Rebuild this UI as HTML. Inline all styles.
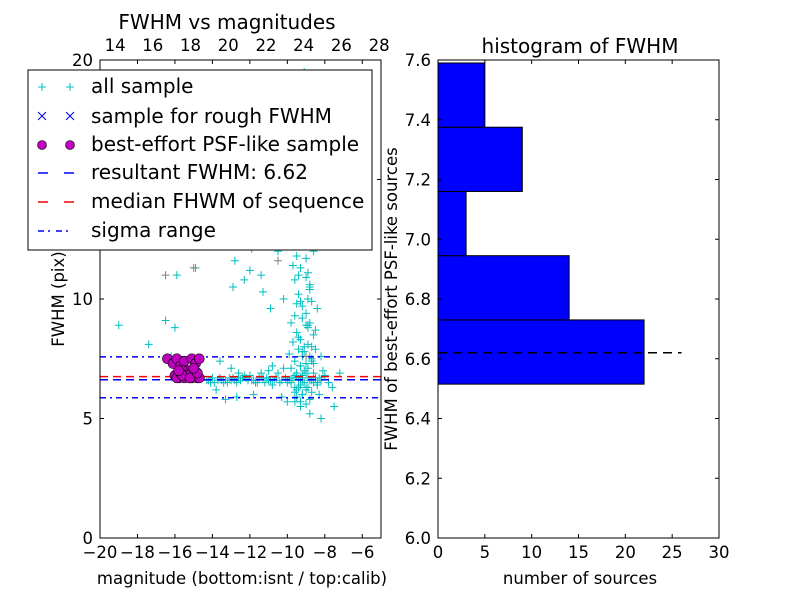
<!DOCTYPE html>
<html><head><meta charset="utf-8"><style>
body{margin:0;background:#fff;}
svg text{font-family:"DejaVu Sans","Liberation Sans",sans-serif;}
</style></head><body>
<svg id="chart" width="800" height="600" xmlns="http://www.w3.org/2000/svg">
<rect width="800" height="600" fill="#fff"/>
<g id="left"></g>
<g id="right"></g>
</svg>
<script>
// ---- data ----
const allMag = [-19.0,-17.4,-16.5,-16.2,-16.0,-15.9,-16.4,-14.9,-13.0,-12.6,-11.0,-13.6,-11.4,-12.0,-12.8,-11.0,-12.3,-10.5,-11.3,-12.9,-10.9,-10.2,-9.9,-9.7,-9.5,-9.3,-9.1,-9.0,-8.9,-8.8,-8.7,-9.6,-9.4,-9.2,-9.0,-8.8,-9.8,-9.5,-9.3,-9.1,-8.9,-9.7,-9.4,-9.2,-9.0,-8.6,-9.9,-9.6,-9.3,-9.1,-8.8,-8.5,-9.5,-9.2,-8.9,-8.7,-9.4,-9.0,-8.7,-8.4,-9.8,-9.5,-9.3,-9.0,-8.8,-8.3,-9.6,-9.2,-8.9,-8.6,-14.3,-14.0,-13.7,-13.4,-13.1,-12.8,-12.5,-12.2,-11.9,-11.6,-11.3,-11.0,-10.7,-10.4,-10.1,-9.8,-9.5,-9.2,-8.9,-8.6,-8.3,-8.0,-14.1,-13.5,-12.9,-12.3,-11.7,-11.1,-10.5,-9.9,-9.3,-8.7,-8.1,-13.8,-12.6,-11.4,-10.2,-9.0,-7.8,-10.8,-10.0,-9.2,-8.4,-7.6,-7.2,-7.5,-8.2,-8.8,-9.3,-9.6,-10.3,-11.8,-12.7,-13.3,-10.0,-9.7,-9.4,-9.9,-9.6,-9.3,-9.8,-9.5,-9.1,-9.7,-9.4,-10.0,
-14.4,-14.2,-13.9,-13.6,-13.3,-13.0,-12.7,-12.4,-12.1,-11.8,-11.5,-11.2,-10.9,-10.6,-10.3,-10.0,-9.7,-9.4,-9.1,-8.8,-8.5,-8.2,-13.2,-12.0,-10.8,-9.6,-8.4,-9.3,-9.0,-8.8,-9.5,-9.2,-8.9,-9.4,-9.1,-8.7,-9.3,-9.0,-8.6,-9.2,-8.9,-8.5,-9.6,-9.3,-8.8,-9.7,-9.1,-8.6,-9.4,-8.9,-8.4,-9.0,-8.7,-8.2,-9.8,-9.5,-9.2,-9.6,-9.3,-9.9];
const allFwhm = [8.9,8.1,9.1,7.6,8.8,11.0,7.5,11.3,7.1,6.9,7.0,7.4,11.0,11.2,11.6,12.4,10.8,12.0,10.3,10.5,9.6,10.0,12.6,12.2,11.8,11.3,12.4,11.7,11.1,10.5,9.9,10.8,10.2,9.7,9.4,9.0,9.0,8.6,8.3,8.0,8.8,8.2,7.9,7.6,7.3,8.5,7.7,7.4,7.2,7.0,7.6,7.9,6.9,6.8,7.1,7.4,6.3,6.2,6.1,6.4,6.5,5.9,5.7,5.6,5.8,6.0,6.1,6.0,6.3,6.5,6.6,6.7,6.6,6.5,6.7,6.6,6.6,6.7,6.6,6.5,6.7,6.6,6.6,6.5,6.7,6.6,6.8,6.6,6.7,6.9,6.7,6.8,6.5,6.6,6.7,6.8,6.5,6.7,6.9,6.6,6.4,6.6,7.0,6.2,6.7,6.9,7.1,6.3,6.5,7.2,6.6,6.8,6.5,6.3,6.9,5.5,5.0,5.2,5.5,5.7,5.9,6.0,5.9,5.8,5.7,13.5,14.5,15.5,16.5,17.5,13.0,18.5,19.5,14.0,15.0,16.0,13.8,
6.6,6.5,6.7,6.6,6.6,6.5,6.7,6.6,6.6,6.7,6.5,6.6,6.7,6.6,6.5,6.7,6.6,6.5,6.6,6.7,6.6,6.5,6.8,6.4,6.8,6.5,6.7,10.9,10.4,9.8,9.2,8.9,8.4,7.8,7.5,7.2,6.9,7.3,7.8,8.1,8.7,9.3,9.9,10.6,11.4,12.8,12.0,11.0,10.0,9.6,8.9,8.0,7.6,7.1,6.2,6.0,6.3,12.9,13.6,14.8];
const grayMag = [-16.5,-15.0,-10.5,-11.9,-9.0];
const grayFwhm = [11.0,11.3,11.6,12.1,7.6];
const psfMag = [-16.4,-16.1,-15.9,-15.7,-15.5,-15.3,-15.1,-14.9,-14.7,-16.0,-15.8,-15.6,-15.4,-15.2,-15.0,-14.8,-15.9,-15.7,-15.5,-15.3,-15.1,-14.9,-14.7,-15.6,-15.2,-14.8,-15.0,-15.8];
const psfFwhm = [7.5,7.3,7.5,7.2,7.4,7.0,7.5,7.3,7.5,6.8,6.7,7.0,6.8,6.7,6.9,6.7,6.7,6.9,6.7,6.8,6.7,6.9,6.7,6.8,6.7,6.9,7.1,7.0];
const resultFwhm = 6.62, medianFwhm = 6.75, sigmaLo = 5.87, sigmaHi = 7.58;
const binEdges = [6.515,6.73,6.945,7.16,7.375,7.59];
const binCounts = [22,14,3,9,5];
const xTicksBottom = [-20,-18,-16,-14,-12,-10,-8,-6];
const xTicksTop = [14,16,18,20,22,24,26,28];
const yTicksLeft = [0,5,10,15,20];
const xTicksHist = [0,5,10,15,20,25,30];
const yTicksHist = [6.0,6.2,6.4,6.6,6.8,7.0,7.2,7.4,7.6];

const NS="http://www.w3.org/2000/svg";
const FS=16.5;
function mk(p,t,a){const e=document.createElementNS(NS,t);for(const k in a)e.setAttribute(k,a[k]);p.appendChild(e);return e;}
const L=document.getElementById('left'), R=document.getElementById('right');
const lx0=100,lx1=381,ly0=60,ly1=538;
const sx=v=>lx0+(v+20)/15*(lx1-lx0);
const stx=v=>lx0+(v-13.2)/14.9*(lx1-lx0);
const sy=v=>ly1-v/20*(ly1-ly0);
function plus(g,x,y,c){const p=mk(g,'path',{d:`M${x-4},${y}h8M${x},${y-4}v8`,stroke:c,'stroke-width':1,fill:'none'});

}
const clip=mk(L,'clipPath',{id:'lc'});mk(clip,'rect',{x:lx0,y:ly0,width:lx1-lx0,height:ly1-ly0});
const pg=mk(L,'g',{'clip-path':'url(#lc)'});
allMag.forEach((m,i)=>plus(pg,sx(m),sy(allFwhm[i]),'#00bfbf'));
grayMag.forEach((m,i)=>plus(pg,sx(m),sy(grayFwhm[i]),'#808080'));
function hl(v,c,dash,name){const l=mk(pg,'line',{x1:lx0,x2:lx1,y1:sy(v),y2:sy(v),stroke:c,'stroke-width':1.5,'stroke-dasharray':dash});

}
hl(sigmaHi,'#0000ff','6,4,2,4','sigma-upper-line');hl(sigmaLo,'#0000ff','6,4,2,4','sigma-lower-line');
hl(resultFwhm,'#0000ff','8,5','resultant-fwhm-line');hl(medianFwhm,'#ff0000','8,5','median-fwhm-line');
psfMag.forEach((m,i)=>{const c=mk(pg,'circle',{cx:sx(m),cy:sy(psfFwhm[i]),r:5,fill:'#bf00bf',stroke:'#000','stroke-width':0.6});

});
mk(L,'rect',{x:lx0,y:ly0,width:lx1-lx0,height:ly1-ly0,fill:'none',stroke:'#000'});
xTicksBottom.forEach(t=>{const x=sx(t);mk(L,'line',{x1:x,x2:x,y1:ly1,y2:ly1-4,stroke:'#000'});mk(L,'line',{x1:x,x2:x,y1:ly0,y2:ly0+4,stroke:'#000'});
const tx=mk(L,'text',{x:x,y:ly1+20,'text-anchor':'middle','font-size':FS});tx.textContent=(t<0?'\u2212'+(-t):t);

});
xTicksTop.forEach(t=>{const x=stx(t);const tx=mk(L,'text',{x:x,y:ly0-9,'text-anchor':'middle','font-size':FS});tx.textContent=t;

});
yTicksLeft.forEach(t=>{const y=sy(t);mk(L,'line',{x1:lx0,x2:lx0+4,y1:y,y2:y,stroke:'#000'});mk(L,'line',{x1:lx1,x2:lx1-4,y1:y,y2:y,stroke:'#000'});
const tx=mk(L,'text',{x:lx0-7,y:y+6,'text-anchor':'end','font-size':FS});tx.textContent=t;

});
const rx0=438,rx1=719;
const hx=v=>rx0+v/30*(rx1-rx0);
const hy=v=>ly1-(v-6)/1.6*(ly1-ly0);
binCounts.forEach((c,i)=>{const r=mk(R,'rect',{x:rx0,y:hy(binEdges[i+1]),width:hx(c)-rx0,height:hy(binEdges[i])-hy(binEdges[i+1]),fill:'#0000ff',stroke:'#000','stroke-width':1});

});
const dl=mk(R,'line',{x1:rx0,x2:hx(26),y1:hy(resultFwhm),y2:hy(resultFwhm),stroke:'#000','stroke-width':1.5,'stroke-dasharray':'9,6'});


mk(R,'rect',{x:rx0,y:ly0,width:rx1-rx0,height:ly1-ly0,fill:'none',stroke:'#000'});
xTicksHist.forEach(t=>{const x=hx(t);mk(R,'line',{x1:x,x2:x,y1:ly1,y2:ly1-4,stroke:'#000'});mk(R,'line',{x1:x,x2:x,y1:ly0,y2:ly0+4,stroke:'#000'});
const tx=mk(R,'text',{x:x,y:ly1+20,'text-anchor':'middle','font-size':FS});tx.textContent=t;

});
yTicksHist.forEach(t=>{const y=hy(t);mk(R,'line',{x1:rx0,x2:rx0+4,y1:y,y2:y,stroke:'#000'});mk(R,'line',{x1:rx1,x2:rx1-4,y1:y,y2:y,stroke:'#000'});
const tx=mk(R,'text',{x:rx0-7,y:y+6,'text-anchor':'end','font-size':FS});tx.textContent=t.toFixed(1);

});
</script>
<svg style="position:absolute;left:0;top:0" width="800" height="600" xmlns="http://www.w3.org/2000/svg">
<text x="227" y="29" text-anchor="middle" font-size="20">FWHM vs magnitudes</text>
<text x="580" y="53" text-anchor="middle" font-size="20">histogram of FWHM</text>
<text x="242" y="584" text-anchor="middle" font-size="16.5">magnitude (bottom:isnt / top:calib)</text>
<text x="580" y="584" text-anchor="middle" font-size="16.5">number of sources</text>
<text transform="translate(64,299) rotate(-90)" text-anchor="middle" font-size="16.5">FWHM (pix)</text>
<text transform="translate(397,299) rotate(-90)" text-anchor="middle" font-size="16.5">FWHM of best-effort PSF-like sources</text>
<g>
<rect x="28" y="70" width="344" height="180" fill="#fff" stroke="#000"/>
<g><path d="M38,87h8M42,83v8M66,87h8M70,83v8" stroke="#00bfbf"/><text x="91" y="93" font-size="20">all sample</text></g>
<g><path d="M38,112l8,8M46,112l-8,8M66,112l8,8M74,112l-8,8" stroke="#0000ff"/><text x="91" y="123" font-size="20">sample for rough FWHM</text></g>
<g><circle cx="42" cy="145" r="4.5" fill="#bf00bf" stroke="#000" stroke-width="0.6"/><circle cx="70" cy="145" r="4.5" fill="#bf00bf" stroke="#000" stroke-width="0.6"/><text x="91" y="151" font-size="20">best-effort PSF-like sample</text></g>
<g><path d="M38,173h10M64,173h10" stroke="#0000ff" stroke-width="1.5"/><text x="91" y="179" font-size="20">resultant FWHM: 6.62</text></g>
<g><path d="M38,202h10M64,202h10" stroke="#ff0000" stroke-width="1.5"/><text x="91" y="208" font-size="20">median FHWM of sequence</text></g>
<g><path d="M38,231h6M48,231h2M56,231h6M66,231h2" stroke="#0000ff" stroke-width="1.5"/><text x="91" y="237" font-size="20">sigma range</text></g>
</g>
</svg>
</body></html>
